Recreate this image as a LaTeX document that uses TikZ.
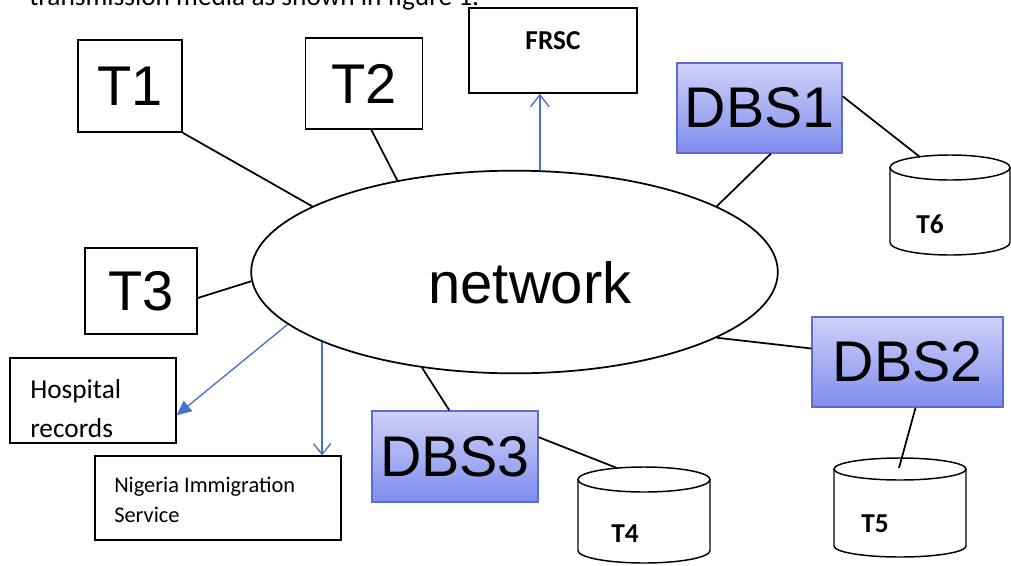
\documentclass[tikz,border=0pt]{standalone}
\usepackage{fontspec}
\newfontfamily\arialfont{Liberation Sans}
\newfontfamily\calfont{Carlito}
\usetikzlibrary{arrows.meta,positioning,calc,shapes.geometric}
\definecolor{dbstop}{RGB}{206,210,248}
\definecolor{dbsbot}{RGB}{128,140,238}
\definecolor{dbsline}{RGB}{95,108,200}
\definecolor{linkblue}{RGB}{68,114,196}

\begin{document}
\begin{tikzpicture}[x=0.75pt, y=-0.75pt,
    termbox/.style={draw, line width=1.3pt, fill=white, inner sep=0pt,
      font=\arialfont\fontsize{42}{42}\selectfont},
    dbsbox/.style={draw=dbsline, line width=1pt, top color=dbstop, bottom color=dbsbot,
      inner sep=0pt, font=\arialfont\fontsize{43}{43}\selectfont},
    infobox/.style={draw, line width=1pt, inner sep=0pt},
    link/.style={line width=1.3pt},
    feed/.style={linkblue, line width=1pt},
    lbl/.style={inner sep=0pt, font=\calfont\fontsize{20.5}{29.25}\selectfont}]
    \useasboundingbox (0,0) rectangle (1011,565);
    \clip (0,0) rectangle (1011,565);
    % Cut-off line of the page text
    \node[lbl, anchor=base west] (caption) at (29,5) {transmission media as shown in figure 1.};
    % Network
    \node[draw, ellipse, line width=1.3pt, inner sep=0pt,
      minimum width=395pt, minimum height=152pt] (net) at (514.5,272) {};
    \node[inner sep=0pt, anchor=base, font=\arialfont\fontsize{43.5}{43.5}\selectfont]
      (netlabel) at (530,303) {network};
    % Terminals
    \node[termbox, minimum width=78pt, minimum height=69pt] (t1) at (130,86) {T1};
    \node[termbox, minimum width=87.75pt, minimum height=68.25pt] (t2) at (364,83.5) {T2};
    \node[termbox, minimum width=84pt, minimum height=64.5pt] (t3) at (141,291) {T3};
    % Database servers
    \node[dbsbox, minimum width=123.75pt, minimum height=67.5pt] (dbs1) at (759.5,108) {DBS1};
    \node[dbsbox, minimum width=143.25pt, minimum height=67.5pt] (dbs2) at (907.5,362) {DBS2};
    \node[dbsbox, minimum width=124.5pt, minimum height=68.25pt] (dbs3) at (455,456.5) {DBS3};
    % Outside agencies
    \node[infobox, minimum width=126pt, minimum height=63.75pt] (frsc) at (553,50.5) {};
    \node[lbl, font=\calfont\bfseries\fontsize{20.5}{20.5}\selectfont, anchor=base]
      (frsclabel) at (553,49) {FRSC};
    \node[infobox, minimum width=124.5pt, minimum height=63.75pt] (hosp) at (93,400.5) {};
    \node[lbl, anchor=base west] (hosplabel) at (30,398) {Hospital};
    \node[lbl, anchor=base west] (hosplabel2) at (30,437) {records};
    \node[infobox, minimum width=184.5pt, minimum height=63pt] (nis) at (218,498) {};
    \node[lbl, font=\calfont\fontsize{16.8}{22.5}\selectfont, anchor=base west]
      (nislabel) at (114,492) {Nigeria Immigration};
    \node[lbl, font=\calfont\fontsize{16.8}{22.5}\selectfont, anchor=base west]
      (nislabel2) at (114,522) {Service};
    % Disks
    \foreach \cx/\cy/\rx/\ry/\by in {950/167.5/60/12.5/242.5, 644/479.5/66/12.5/550.5, 900/469/66/11/546} {
      \draw[line width=1.1pt] (\cx-\rx,\cy) -- (\cx-\rx,\by)
        arc[start angle=180, end angle=0, x radius=\rx, y radius=\ry] -- (\cx+\rx,\cy);
      \draw[line width=1.1pt] (\cx,\cy) ellipse [x radius=\rx, y radius=\ry];
    }
    \coordinate (t6top) at (920,157);
    \coordinate (t4top) at (617,468);
    \coordinate (t5top) at (899,468);
    \node[lbl, font=\calfont\bfseries\fontsize{20.5}{20.5}\selectfont, anchor=base] (t6) at (930,233) {T6};
    \node[lbl, font=\calfont\bfseries\fontsize{20.5}{20.5}\selectfont, anchor=base] (t4) at (625,542) {T4};
    \node[lbl, font=\calfont\bfseries\fontsize{20.5}{20.5}\selectfont, anchor=base] (t5) at (875,532) {T5};
    % Links
    \draw[link] (t1.south east) -- (net.162);
    \draw[link] (t2.-81) -- (net.142);
    \draw[link] (t3.-7) -- (net.182);
    \draw[link] (dbs1.-76) -- (net.18);
    \draw[link] (dbs2.172) -- (net.-18);
    \draw[link] (dbs3.97) -- (net.226);
    \draw[link] (dbs1.8) -- (t6top);
    \draw[link] (dbs2.-80) -- (t5top);
    \draw[link] (dbs3.13) -- (t4top);
    % Data feeds
    \draw[feed, -{Straight Barb[length=9pt,width=14pt]}] (net.76) -- (net.76 |- frsc.south);
    \draw[feed, -{Triangle[length=11pt,width=10pt]}] (net.193) -- (hosp.-10);
    \draw[feed, -{Straight Barb[length=8pt,width=13pt]}] (net.200) -- (net.200 |- nis.north);
\end{tikzpicture}
\end{document}
